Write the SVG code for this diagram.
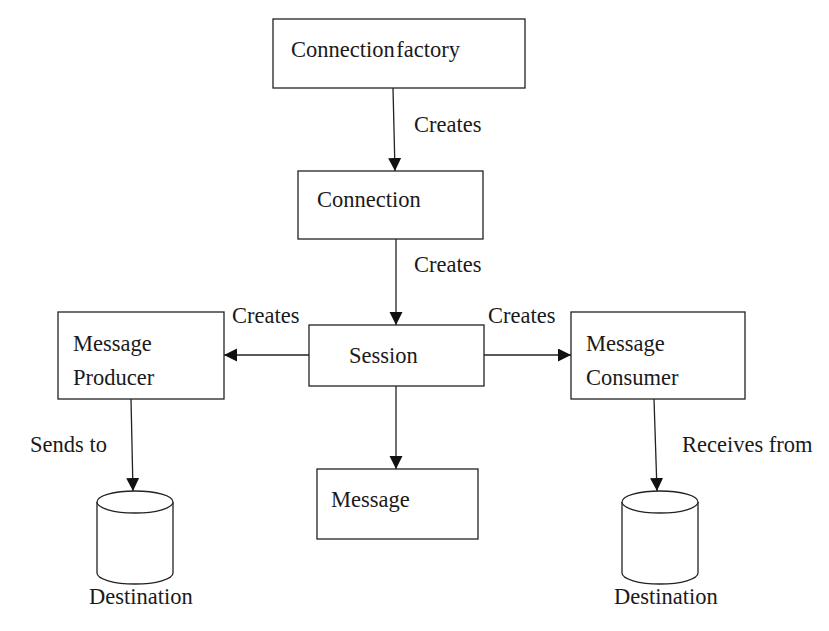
<svg xmlns="http://www.w3.org/2000/svg" width="829" height="631" viewBox="0 0 829 631">
<style>
.box{fill:#fff;stroke:#222;stroke-width:1.3}
.cyl{fill:#fff;stroke:#222;stroke-width:1.3}
.edge{fill:none;stroke:#222;stroke-width:1.3}
text{font-family:"Liberation Serif","Times New Roman",serif;font-size:22.5px;fill:#1a1a1a}
</style>
<defs>
<marker id="arr" markerUnits="userSpaceOnUse" markerWidth="14" markerHeight="14" refX="13" refY="6.5" orient="auto">
<path d="M0,0 L13,6.5 L0,13 Z" fill="#111"/>
</marker>
</defs>
<rect width="829" height="631" fill="#fff"/>
<g id="connectors">
<line class="edge" x1="393" y1="88" x2="395" y2="171" marker-end="url(#arr)"/>
<line class="edge" x1="396" y1="239" x2="396" y2="325" marker-end="url(#arr)"/>
<line class="edge" x1="309" y1="355" x2="224" y2="355" marker-end="url(#arr)"/>
<line class="edge" x1="484" y1="355" x2="571" y2="355" marker-end="url(#arr)"/>
<line class="edge" x1="396" y1="386" x2="396" y2="469" marker-end="url(#arr)"/>
<line class="edge" x1="131" y1="399" x2="133" y2="491" marker-end="url(#arr)"/>
<line class="edge" x1="654" y1="399" x2="657" y2="491" marker-end="url(#arr)"/>
<text x="414" y="132">Creates</text>
<text x="414" y="272">Creates</text>
<text x="232" y="323">Creates</text>
<text x="488" y="323">Creates</text>
<text x="30" y="452">Sends to</text>
<text x="682" y="452">Receives from</text>
</g>
<g id="connection-factory">
<rect class="box" x="273" y="19" width="252" height="69"/>
<text x="291" y="57" word-spacing="-4">Connection factory</text>
</g>
<g id="connection">
<rect class="box" x="298" y="171" width="185" height="68"/>
<text x="317" y="207">Connection</text>
</g>
<g id="session">
<rect class="box" x="309" y="325" width="175" height="61"/>
<text x="349" y="363">Session</text>
</g>
<g id="message-producer">
<rect class="box" x="58" y="312" width="166" height="87"/>
<text x="73" y="351">Message</text>
<text x="73" y="385">Producer</text>
</g>
<g id="message-consumer">
<rect class="box" x="571" y="312" width="174" height="87"/>
<text x="586" y="351">Message</text>
<text x="586" y="385">Consumer</text>
</g>
<g id="message">
<rect class="box" x="317" y="469" width="161" height="70"/>
<text x="331" y="507">Message</text>
</g>
<g id="destination-left">
<path class="cyl" d="M97,502 L97,573 A38,11 0 0 0 173,573 L173,502"/>
<ellipse class="cyl" cx="135" cy="502" rx="38" ry="11"/>
<text x="89" y="604">Destination</text>
</g>
<g id="destination-right">
<path class="cyl" d="M622,502 L622,573 A38,11 0 0 0 698,573 L698,502"/>
<ellipse class="cyl" cx="660" cy="502" rx="38" ry="11"/>
<text x="614" y="604">Destination</text>
</g>
</svg>
